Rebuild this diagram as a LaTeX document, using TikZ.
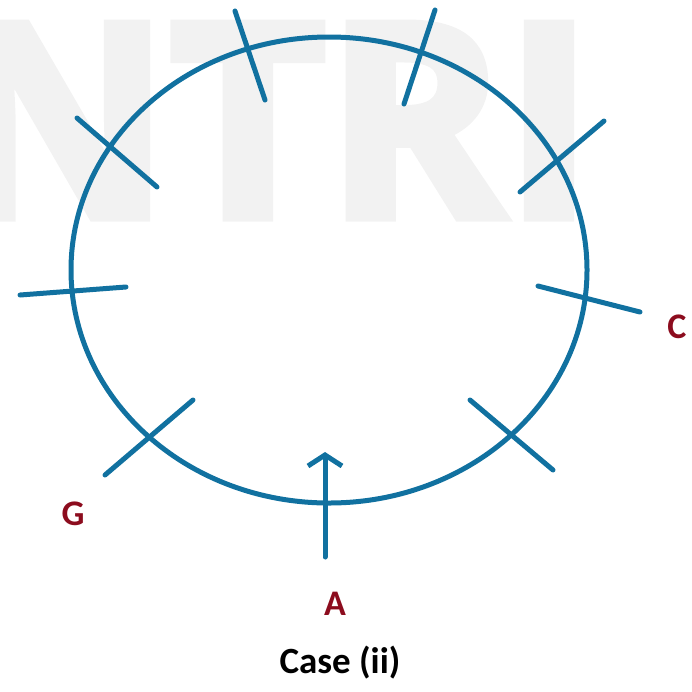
\documentclass[tikz,border=0pt]{standalone}
\usepackage{fontspec}
\setmainfont{Carlito}
\newfontfamily\markfont[FakeBold=3.5]{Open Sans Bold}
\usetikzlibrary{shapes.geometric,arrows.meta}
\definecolor{ringblue}{RGB}{17,113,160}
\definecolor{labelred}{RGB}{140,12,30}
\definecolor{markgray}{RGB}{242,242,242}
\begin{document}
\begin{tikzpicture}[x=1pt,y=-1pt,
  ring/.style={draw=ringblue, line width=5pt, ellipse, minimum width=516pt,
               minimum height=466pt, inner sep=0pt},
  tick/.style={draw=ringblue, line width=5pt, line cap=round, line join=round},
  lbl/.style={text=labelred, font=\fontsize{36}{36}\selectfont\bfseries, inner sep=0pt},
  caption/.style={font=\fontsize{37}{37}\selectfont\bfseries, inner sep=0pt},
  wm/.style={text=markgray, font=\fontsize{270}{270}\selectfont\markfont,
             inner sep=0pt, anchor=base west}]
\useasboundingbox (0,0) rectangle (692,691);
\clip (0,0) rectangle (692,691);
% faint background lettering
\node[wm] (mark) at (-50,217) {NTRI};
% the ring
\node[ring] (ring) at (329,270) {};
% end points of the cross marks
\coordinate (t1a) at (235,11);  \coordinate (t1b) at (265,100);
\coordinate (t2a) at (435,10);  \coordinate (t2b) at (404,104);
\coordinate (t3a) at (77,118);  \coordinate (t3b) at (157,187);
\coordinate (t4a) at (604,121); \coordinate (t4b) at (520,192);
\coordinate (t5a) at (20,295);  \coordinate (t5b) at (126,287);
\coordinate (t6a) at (538,286); \coordinate (t6b) at (640,312);
\coordinate (t7a) at (193,400); \coordinate (t7b) at (105,475);
\coordinate (t8a) at (470,400); \coordinate (t8b) at (553,470);
\foreach \i in {1,...,8} \draw[tick] (t\i a) -- (t\i b);
% entry arrow
\coordinate (atail) at (325,557);
\coordinate (ahead) at (325,452);
\draw[tick, -{Straight Barb[length=11pt,width=34pt]}] (atail) -- (ahead);
% labels
\node[lbl] (la) at (335,604) {A};
\node[lbl] (lg) at (73,514) {G};
\node[lbl] (lc) at (677,327) {C};
\node[caption] (cap) at (340,663) {Case (ii)};
\end{tikzpicture}
\end{document}
